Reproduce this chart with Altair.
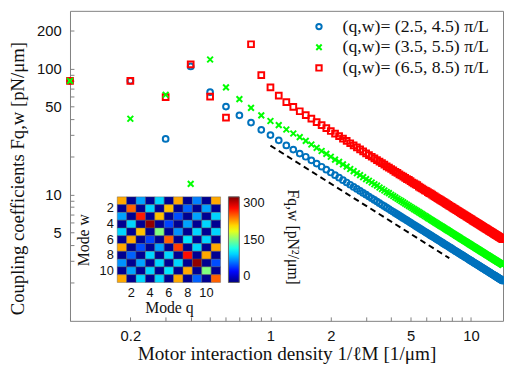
import altair as alt
import pandas as pd

# ---------------- data ----------------
series_names = ["(q,w)= (2.5, 4.5) π/L", "(q,w)= (3.5, 5.5) π/L", "(q,w)= (6.5, 8.5) π/L"]
series_colors = ["#0072BD", "#00FF00", "#FF0000"]
series_shapes = ["circle", "M-1,-1L1,1M-1,1L1,-1", "square"]

x_low = [0.1, 0.2, 0.3, 0.4, 0.5, 0.6, 0.7, 0.8, 0.9]
blue_low = [80, 80, 27.7, 104, 65, 50, 42.6, 37.3, 32.7]
green_low = [80, 40, 62, 12.2, 118, 71, 57.3, 48.8, 42.6]
red_low_x = [0.1, 0.2, 0.3, 0.4, 0.5, 0.6, 0.8, 0.9]
red_low = [80, 80, 59.4, 108, 60, 40.8, 156, 88.7]

x_high = [round(1.0 + 0.1 * i, 1) for i in range(135)]
blue_high = [29.7, 27.0, 24.6, 22.8, 21.2, 20.0, 18.75, 17.65, 16.67, 15.79,
             15.0, 14.29, 13.64, 13.04, 12.5, 12.0, 11.54, 11.11, 10.71, 10.34,
             10.0, 9.68, 9.38, 9.09, 8.82, 8.57, 8.33, 8.11, 7.89, 7.69,
             7.5, 7.32, 7.14, 6.98, 6.82, 6.67, 6.52, 6.38, 6.25, 6.12,
             6.0, 5.88, 5.77, 5.66, 5.56, 5.45, 5.36, 5.26, 5.17, 5.08,
             5.0, 4.92, 4.84, 4.76, 4.69, 4.62, 4.55, 4.48, 4.41, 4.35,
             4.29, 4.23, 4.17, 4.11, 4.05, 4.0, 3.95, 3.90, 3.85, 3.80,
             3.75, 3.70, 3.66, 3.61, 3.57, 3.53, 3.49, 3.45, 3.41, 3.37,
             3.33, 3.30, 3.26, 3.23, 3.19, 3.16, 3.13, 3.09, 3.06, 3.03,
             3.0, 2.97, 2.94, 2.91, 2.88, 2.86, 2.83, 2.80, 2.78, 2.75,
             2.73, 2.70, 2.68, 2.65, 2.63, 2.61, 2.59, 2.56, 2.54, 2.52,
             2.50, 2.48, 2.46, 2.44, 2.42, 2.40, 2.38, 2.36, 2.34, 2.33,
             2.31, 2.29, 2.27, 2.26, 2.24, 2.22, 2.21, 2.19, 2.17, 2.16,
             2.14, 2.13, 2.11, 2.10, 2.08]
green_high = [38.4, 35.6, 32.9, 30.6, 28.6, 26.7, 25.0, 23.5, 22.2, 21.1,
              20.0, 19.0, 18.2, 17.4, 16.7, 16.0, 15.4, 14.8, 14.3, 13.8,
              13.3, 12.9, 12.5, 12.1, 11.8, 11.4, 11.1, 10.8, 10.5, 10.3,
              10.0, 9.76, 9.52, 9.30, 9.09, 8.89, 8.70, 8.51, 8.33, 8.16,
              8.0, 7.84, 7.69, 7.55, 7.41, 7.27, 7.14, 7.02, 6.90, 6.78,
              6.67, 6.56, 6.45, 6.35, 6.25, 6.15, 6.06, 5.97, 5.88, 5.80,
              5.71, 5.63, 5.56, 5.48, 5.41, 5.33, 5.26, 5.19, 5.13, 5.06,
              5.0, 4.94, 4.88, 4.82, 4.76, 4.71, 4.65, 4.60, 4.55, 4.49,
              4.44, 4.40, 4.35, 4.30, 4.26, 4.21, 4.17, 4.12, 4.08, 4.04,
              4.0, 3.96, 3.92, 3.88, 3.85, 3.81, 3.77, 3.74, 3.70, 3.67,
              3.64, 3.60, 3.57, 3.54, 3.51, 3.48, 3.45, 3.42, 3.39, 3.36,
              3.33, 3.31, 3.28, 3.25, 3.23, 3.20, 3.17, 3.15, 3.13, 3.10,
              3.08, 3.05, 3.03, 3.01, 2.99, 2.96, 2.94, 2.92, 2.90, 2.88,
              2.86, 2.84, 2.82, 2.80, 2.78]
red_high = [71, 61, 54.3, 49.7, 45.9, 42.8, 40.1, 37.6, 35.6, 33.7,
            32.0, 30.5, 29.1, 27.8, 26.7, 25.6, 24.6, 23.7, 22.9, 22.1,
            21.3, 20.6, 20.0, 19.4, 18.8, 18.3, 17.8, 17.3, 16.8, 16.4,
            16.0, 15.6, 15.2, 14.9, 14.5, 14.2, 13.9, 13.6, 13.3, 13.1,
            12.8, 12.5, 12.3, 12.1, 11.9, 11.6, 11.4, 11.2, 11.0, 10.8,
            10.7, 10.5, 10.3, 10.2, 10.0, 9.85, 9.70, 9.55, 9.41, 9.28,
            9.14, 9.01, 8.89, 8.77, 8.65, 8.53, 8.42, 8.31, 8.21, 8.10,
            8.0, 7.90, 7.80, 7.71, 7.62, 7.53, 7.44, 7.36, 7.27, 7.19,
            7.11, 7.03, 6.96, 6.88, 6.81, 6.74, 6.67, 6.60, 6.53, 6.46,
            6.40, 6.34, 6.27, 6.21, 6.15, 6.10, 6.04, 5.98, 5.93, 5.87,
            5.82, 5.77, 5.71, 5.66, 5.61, 5.57, 5.52, 5.47, 5.42, 5.38,
            5.33, 5.29, 5.25, 5.20, 5.16, 5.12, 5.08, 5.04, 5.00, 4.96,
            4.92, 4.89, 4.85, 4.81, 4.78, 4.74, 4.71, 4.67, 4.64, 4.60,
            4.57, 4.54, 4.51, 4.48, 4.44]

dash_x = [1.0, 7.8]
dash_y = [24.5, 3.14]

# inset coupling matrix F_{q,w} (rows w = 1..11, columns q = 1..11)
heat_values = [
    [213, 5, 85, 5, 100, 5, 213, 5, 75, 5, 213],
    [5, 234, 5, 100, 5, 206, 5, 66, 5, 85, 5],
    [85, 5, 255, 5, 206, 5, 60, 5, 85, 5, 100],
    [5, 100, 5, 295, 5, 57, 5, 85, 5, 100, 5],
    [100, 5, 206, 5, 150, 5, 80, 5, 100, 5, 100],
    [5, 213, 5, 57, 5, 234, 5, 105, 5, 100, 5],
    [213, 5, 60, 5, 85, 5, 245, 5, 100, 5, 213],
    [5, 66, 5, 100, 5, 100, 5, 259, 5, 213, 5],
    [80, 5, 85, 5, 100, 5, 100, 5, 295, 5, 60],
    [5, 85, 5, 100, 5, 105, 5, 213, 5, 150, 5],
    [213, 5, 100, 5, 100, 5, 213, 5, 66, 5, 234],
]
jet_stops = [0, 37.5, 112.5, 187.5, 262.5, 300]
jet_colors = ["#000080", "#0000ff", "#00ffff", "#ffff00", "#ff0000", "#800000"]
colorbar_title = ["Fq,w [pN²/μm]"]

# ---------------- tables ----------------
rows = []
for xv, yv in zip(x_low + x_high, blue_low + blue_high):
    rows.append({"x": xv, "F": yv, "series": series_names[0]})
for xv, yv in zip(red_low_x + x_high, red_low + red_high):
    rows.append({"x": xv, "F": yv, "series": series_names[2]})
for xv, yv in zip(x_low + x_high, green_low + green_high):
    rows.append({"x": xv, "F": yv, "series": series_names[1]})
df = pd.DataFrame(rows)
dash_df = pd.DataFrame({"x": dash_x, "F": dash_y})
heat_df = pd.DataFrame([
    {"q": qi + 1, "w": wi + 1, "F": v}
    for wi, row in enumerate(heat_values) for qi, v in enumerate(row)
])
cbt_df = pd.DataFrame({"t": colorbar_title})

x_ticks = [0.1, 0.2, 0.3, 0.4, 0.5, 0.6, 0.7, 0.8, 0.9, 1, 2, 3, 4, 5, 6, 7, 8, 9, 10]
y_ticks = [2, 3, 4, 5, 6, 7, 8, 9, 10, 20, 30, 40, 50, 60, 70, 80, 90, 100, 200]

xscale = alt.Scale(type="log", domain=[0.1, 14.46], nice=False)
yscale = alt.Scale(type="log", domain=[1, 287], nice=False)

SERIF = "Liberation Serif"
SANS = "Liberation Sans"
AXC = "#808080"

legend_series = alt.Legend(
    title=None, orient="none", legendX=244, legendY=7,
    labelFont=SERIF, labelFontSize=18, labelColor="#111",
    symbolSize=30, symbolStrokeWidth=2, labelOffset=15, rowPadding=3,
)

points = alt.Chart(df).mark_point(filled=False, strokeWidth=2, size=34, opacity=1).encode(
    x=alt.X("x:Q", scale=xscale, axis=alt.Axis(
        values=x_ticks,
        labelExpr="indexof([0.2,1,2,5,10], datum.value) >= 0 ? format(datum.value, '~g') : ''",
        title="Motor interaction density 1/ℓM [1/μm]",
        titleFont=SERIF, titleFontSize=19.5, titleFontWeight="normal", titleColor="#111",
        labelFont=SANS, labelFontSize=15, labelColor="#111",
        domain=False, tickColor=AXC, tickSize={"expr": "-4"}, labelPadding=12,
        titlePadding=1, grid=False, labelFlush=False, labelOverlap=False)),
    y=alt.Y("F:Q", scale=yscale, axis=alt.Axis(
        values=y_ticks,
        labelExpr="indexof([5,10,50,100,200], datum.value) >= 0 ? format(datum.value, '~g') : ''",
        title="Coupling coefficients Fq,w [pN/μm]",
        titleFont=SERIF, titleFontSize=19, titleFontWeight="normal", titleColor="#111",
        titleX=-43, titleY=170, titleBaseline="bottom",
        labelFont=SANS, labelFontSize=15, labelColor="#111",
        domain=False, tickColor=AXC, tickSize={"expr": "-4"}, labelPadding=13,
        grid=False, labelFlush=False, labelOverlap=False)),
    stroke=alt.Stroke("series:N", scale=alt.Scale(domain=series_names, range=series_colors),
                      legend=legend_series),
    shape=alt.Shape("series:N", scale=alt.Scale(domain=series_names, range=series_shapes),
                    legend=legend_series),
)

dash = alt.Chart(dash_df).mark_line(color="black", strokeDash=[6, 4], strokeWidth=2).encode(
    x=alt.X("x:Q", scale=xscale),
    y=alt.Y("F:Q", scale=yscale),
)

main = alt.layer(points, dash)

heat = alt.Chart(heat_df).mark_rect(stroke="#555", strokeWidth=0.4).encode(
    x=alt.X("q:O", scale=alt.Scale(range=[48, 153], paddingInner=0, paddingOuter=0),
            axis=alt.Axis(orient="bottom", offset=-39, values=[2, 4, 6, 8, 10], labelAngle=0,
                          title="Mode q", titleFont=SERIF, titleFontSize=16,
                          titleFontWeight="normal", titleColor="#111", titlePadding=1,
                          labelFont=SANS, labelFontSize=13, labelColor="#111", labelPadding=4,
                          domain=False, ticks=False, grid=False)),
    y=alt.Y("w:O", scale=alt.Scale(range=[189, 276], paddingInner=0, paddingOuter=0),
            axis=alt.Axis(orient="left", offset=-48, values=[2, 4, 6, 8, 10],
                          title="Mode w", titleFont=SERIF, titleFontSize=16,
                          titleFontWeight="normal", titleColor="#111", titlePadding=8,
                          labelFont=SANS, labelFontSize=13, labelColor="#111", labelPadding=4,
                          domain=False, ticks=False, grid=False)),
    fill=alt.Fill("F:Q", scale=alt.Scale(domain=jet_stops, range=jet_colors, interpolate="rgb"),
                  legend=alt.Legend(
                      orient="none", legendX=161, legendY=189, direction="vertical",
                      gradientLength=87, gradientThickness=11,
                      gradientStrokeColor="#666", gradientStrokeWidth=1,
                      values=[0, 150, 300], labelFont=SANS, labelFontSize=13,
                      labelColor="#111", labelOffset=4, title=None)),
)

cb_title = alt.Chart(cbt_df).mark_text(
    angle=90, align="center", baseline="middle", font=SERIF, fontSize=16, color="#111"
).encode(text="t:N", x=alt.value(227), y=alt.value(230))

chart = alt.layer(main, heat, cb_title).resolve_scale(
    x="independent", y="independent"
).properties(
    width=440, height=315,
    autosize=alt.AutoSizeParams(type="none"),
    padding={"left": 63, "top": 0, "right": 1, "bottom": 44},
).configure_view(stroke=AXC, strokeWidth=1)

chart.save("out.html", embed_options={"renderer": "svg", "actions": False})
